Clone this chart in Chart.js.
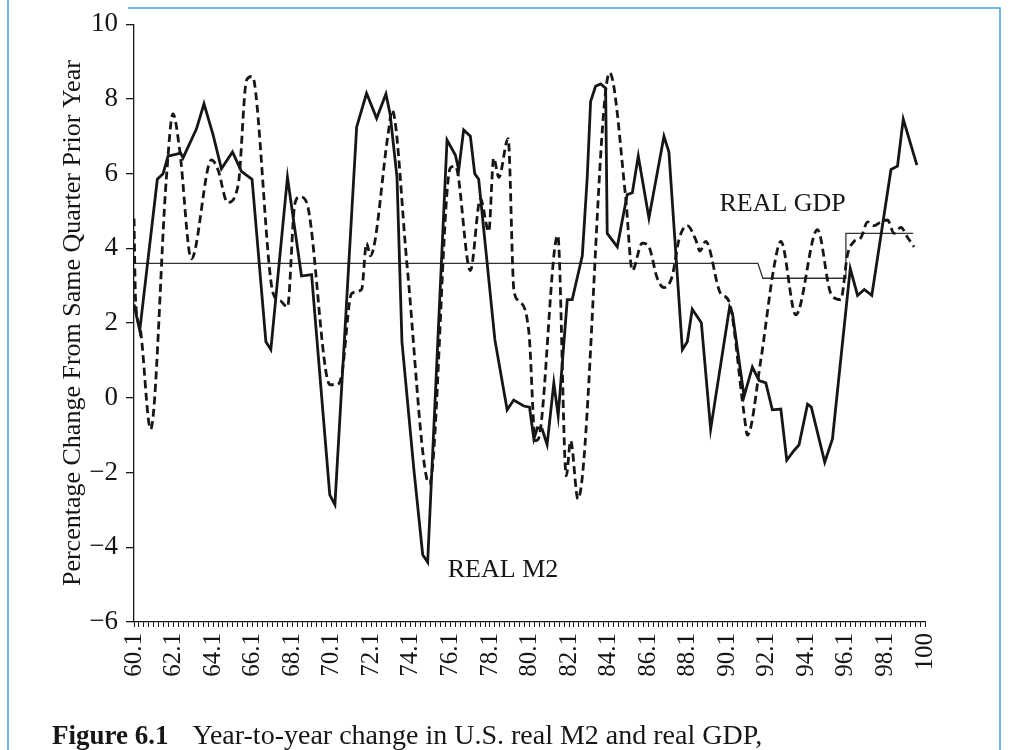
<!DOCTYPE html>
<html>
<head>
<meta charset="utf-8">
<script src="https://cdn.jsdelivr.net/npm/chart.js@4.4.1/dist/chart.umd.min.js"></script>
<style>
  html, body { margin: 0; padding: 0; background: #fff; }
  #wrap { position: relative; width: 1011px; height: 750px; }
  canvas { display: block; }
</style>
</head>
<body>
<div id="wrap"><canvas id="m2Chart" width="1011" height="750"></canvas></div>
<script>
// x values are years, 60.0 = first quarter of 1960 (axis label "60.1")

// Real M2, year-to-year % change (solid)
const m2Years = [60.0, 60.29, 61.18, 61.47, 61.72, 62.36, 62.48, 63.16, 63.54, 64.0,
  64.42, 64.98, 65.43, 65.97, 66.67, 66.92, 67.76, 68.47, 68.98, 69.9,
  70.16, 71.26, 71.76, 72.27, 72.74, 72.95, 73.3, 73.55, 74.15, 74.6,
  74.85, 75.83, 76.25, 76.42, 76.67, 77.01, 77.23, 77.43, 78.25, 78.87,
  79.2, 79.71, 80.0, 80.22, 80.4, 80.64, 80.89, 81.23, 81.45, 81.91,
  82.16, 82.67, 82.92, 83.09, 83.34, 83.6, 83.85, 83.93, 84.44, 84.94,
  85.2, 85.5, 86.04, 86.8, 87.05, 87.73, 87.98, 88.23, 88.69, 89.16,
  90.12, 90.26, 90.85, 91.27, 91.61, 91.95, 92.28, 92.71, 93.01, 93.38,
  93.63, 94.06, 94.25, 94.93, 95.32, 96.22, 96.59, 96.93, 97.31, 98.28,
  98.61, 98.9, 99.59];
const m2Values = [2.5, 1.8, 5.85, 6.0, 6.47, 6.55, 6.42, 7.2, 7.87, 7.04,
  6.13, 6.58, 6.06, 5.85, 1.5, 1.29, 5.9, 3.26, 3.3, -2.6,
  -2.86, 7.25, 8.15, 7.48, 8.13, 7.6, 5.9, 1.5, -1.9, -4.2,
  -4.4, 6.9, 6.5, 6.1, 7.17, 7.0, 6.0, 5.85, 1.55, -0.32,
  -0.06, -0.22, -0.25, -1.1, -0.8, -0.84, -1.25, 0.4, -0.48, 2.63,
  2.63, 3.8, 5.9, 7.93, 8.34, 8.4, 8.29, 4.4, 4.04, 5.44,
  5.49, 6.47, 4.81, 7.0, 6.58, 1.29, 1.5, 2.37, 2.01, -0.84,
  2.43, 2.27, 0.04, 0.82, 0.46, 0.4, -0.32, -0.3, -1.67, -1.41,
  -1.26, -0.17, -0.25, -1.72, -1.1, 3.46, 2.74, 2.9, 2.74, 6.11,
  6.2, 7.46, 6.23];

// Real GDP, year-to-year % change (dashed)
const gdpYears = [60.0, 60.08, 60.3, 60.84, 61.64, 61.97, 62.31, 62.9, 63.92, 64.25,
  64.73, 65.27, 65.69, 65.94, 66.1, 67.04, 67.4, 67.76, 68.13, 68.39,
  68.73, 69.91, 70.24, 70.5, 71.0, 71.51, 71.76, 71.95, 72.86, 73.05,
  73.8, 74.82, 74.95, 76.0, 76.25, 77.01, 77.52, 77.94, 78.19, 78.45,
  78.92, 79.21, 79.45, 79.97, 80.3, 80.45, 81.43, 81.86, 82.08, 82.45,
  84.05, 84.86, 85.2, 85.7, 86.04, 86.46, 86.8, 87.22, 87.56, 87.98,
  88.4, 88.62, 88.91, 89.67, 90.09, 90.85, 91.02, 91.7, 92.37, 92.71,
  93.47, 94.56, 95.24, 95.74, 96.08, 96.42, 96.76, 97.1, 97.43, 97.77,
  98.1, 98.44, 98.78, 99.12, 99.45];
const gdpValues = [4.8, 2.6, 1.9, -0.84, 5.9, 7.6, 6.63, 3.72, 6.37, 6.1,
  5.23, 5.7, 8.5, 8.6, 8.4, 2.79, 2.6, 2.43, 5.18, 5.38,
  5.23, 0.35, 0.35, 0.6, 2.79, 2.9, 4.14, 3.8, 7.1, 7.7,
  3.6, -2.2, -2.29, 6.16, 6.2, 3.41, 5.33, 4.45, 6.42, 5.9,
  6.94, 2.89, 2.6, 1.75, -1.15, -1.1, 4.35, -2.09, -1.15, -2.71,
  8.7, 5.38, 3.41, 4.14, 4.04, 3.2, 2.95, 3.26, 4.24, 4.61,
  4.24, 3.93, 4.19, 2.79, 2.58, -0.43, -1.0, 1.02, 3.52, 4.19,
  2.22, 4.5, 2.79, 2.63, 3.83, 4.19, 4.29, 4.71, 4.61, 4.71,
  4.76, 4.4, 4.56, 4.29, 4.04];

// Period average of real GDP growth (thin step line)
const avgYears = [60.0, 91.55, 91.8, 96.0, 96.0, 99.4];
const avgValues = [3.6, 3.6, 3.2, 3.2, 4.4, 4.4];

// Axis ranges and series labels
const xMin = 60, xMax = 100, xStep = 0.25;
const yMin = -6, yMax = 10, yStep = 2;
const seriesLabels = [
  { text: 'REAL GDP', year: 92.8, value: 5.18 },
  { text: 'REAL M2', year: 78.66, value: -4.62 }
];

const SERIF = '"Liberation Serif", "Times New Roman", serif';
const INK = '#161616';

function toPoints(xs, ys) {
  return xs.map((x, i) => ({ x: x, y: ys[i] }));
}

// Frame, caption and the two series labels
const decorPlugin = {
  id: 'decor',
  afterDraw(chart) {
    const ctx = chart.ctx;
    const xs = chart.scales.x, ys = chart.scales.y;
    ctx.save();

    // light blue page frame
    ctx.strokeStyle = '#3fa9de';
    ctx.lineWidth = 1.5;
    ctx.beginPath();
    ctx.moveTo(8, 750);
    ctx.lineTo(8, 0);
    ctx.moveTo(128, 8);
    ctx.lineTo(1000, 8);
    ctx.lineTo(1000, 750);
    ctx.stroke();

    // series labels
    ctx.fillStyle = INK;
    ctx.textAlign = 'center';
    ctx.textBaseline = 'middle';
    ctx.font = '26px ' + SERIF;
    seriesLabels.forEach(l => {
      ctx.fillText(l.text, xs.getPixelForValue(l.year), ys.getPixelForValue(l.value));
    });

    // caption
    ctx.textAlign = 'left';
    ctx.textBaseline = 'alphabetic';
    ctx.font = 'bold 27px ' + SERIF;
    ctx.fillText('Figure 6.1', 52, 744);
    const w = ctx.measureText('Figure 6.1').width;
    ctx.font = '28px ' + SERIF;
    ctx.fillText('Year-to-year change in U.S. real M2 and real GDP,', 52 + w + 24, 744);
    ctx.restore();
  }
};

const chart = new Chart(document.getElementById('m2Chart'), {
  type: 'line',
  data: {
    datasets: [
      {
        label: 'Real M2',
        data: toPoints(m2Years, m2Values),
        borderColor: INK,
        borderWidth: 2.8,
        pointRadius: 0,
        tension: 0,
        fill: false
      },
      {
        label: 'Real GDP',
        data: toPoints(gdpYears, gdpValues),
        borderColor: INK,
        borderWidth: 2.8,
        borderDash: [8, 4.5],
        pointRadius: 0,
        cubicInterpolationMode: 'monotone',
        fill: false
      },
      {
        label: 'Average',
        data: toPoints(avgYears, avgValues),
        borderColor: '#333',
        borderWidth: 1.3,
        pointRadius: 0,
        tension: 0,
        fill: false
      }
    ]
  },
  options: {
    responsive: false,
    animation: false,
    devicePixelRatio: 1,
    layout: { padding: { left: 52, top: 18, right: 86, bottom: 0 } },
    plugins: {
      legend: { display: false },
      tooltip: { enabled: false }
    },
    scales: {
      x: {
        type: 'linear',
        min: xMin,
        max: xMax,
        afterFit: function(scale) { scale.height = 128; },
        border: { display: true, color: INK, width: 1.3 },
        grid: { drawOnChartArea: false, tickLength: 5, color: INK, lineWidth: 1 },
        ticks: {
          stepSize: xStep,
          maxTicksLimit: 400,
          autoSkip: false,
          minRotation: 90,
          maxRotation: 90,
          padding: 6,
          color: INK,
          font: { family: SERIF, size: 25 },
          callback: function(value) {
            if (value % 2 !== 0) return '';
            return value === 100 ? '100' : value + '.1';
          }
        }
      },
      y: {
        min: yMin,
        max: yMax,
        afterFit: function(scale) { scale.width = 82; },
        border: { display: true, color: INK, width: 1.3 },
        grid: { drawOnChartArea: false, tickLength: 8, color: INK, lineWidth: 1.3 },
        title: {
          display: true,
          text: 'Percentage Change From Same Quarter Prior Year',
          color: INK,
          padding: { top: 6, bottom: 0 },
          font: { family: SERIF, size: 26 }
        },
        ticks: {
          stepSize: yStep,
          padding: 8,
          color: INK,
          font: { family: SERIF, size: 27 },
          callback: function(value) {
            return value < 0 ? '\u2212' + Math.abs(value) : String(value);
          }
        }
      }
    }
  },
  plugins: [decorPlugin]
});
</script>
</body>
</html>
